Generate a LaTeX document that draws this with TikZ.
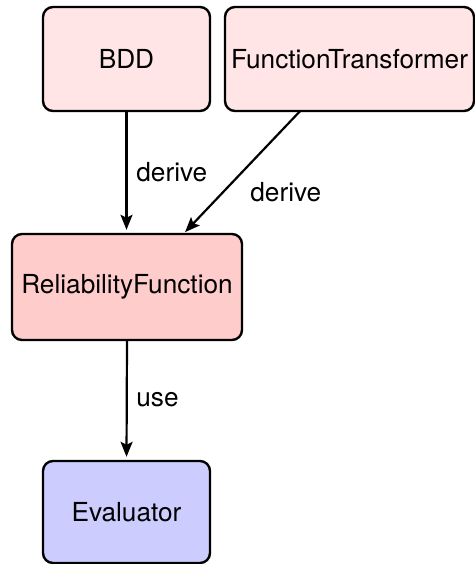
\documentclass[tikz,border=0pt]{standalone}
\usepackage{fontspec}
\setmainfont{TeX Gyre Heros}
\usetikzlibrary{arrows.meta,calc}
\definecolor{paleRed}{HTML}{FFE5E5}
\definecolor{softRed}{HTML}{FFCCCC}
\definecolor{softBlue}{HTML}{CCCCFF}
\begin{document}
\begin{tikzpicture}[x=0.5pt,y=-0.5pt,
  font=\fontsize{13.1}{15.5}\selectfont,
  box/.style={draw=black,line width=1.2pt,rounded corners=5pt,
    minimum height=52pt,inner sep=2pt},
  link/.style={line width=1.1pt,shorten >=1.5pt,
    -{Stealth[length=7.5pt,width=6pt,inset=1.5pt]}},
  lbl/.style={anchor=west,inner sep=0pt}]
\useasboundingbox (0,0) rectangle (475,564);
% boxes
\node[box,fill=paleRed,minimum width=83.5pt] (bdd) at (126.5,59) {BDD};
\node[box,fill=paleRed,minimum width=124.5pt] (ft) at (349.5,59) {FunctionTransformer};
\node[box,fill=softRed,minimum width=115pt,minimum height=53pt] (rf) at (127,287) {ReliabilityFunction};
\node[box,fill=softBlue,minimum width=83.5pt,minimum height=51pt] (ev) at (126.5,512) {Evaluator};
% connectors
\coordinate (ftOut) at ($(ft.south)+(-49.5,-1)$);
\coordinate (rfIn) at ($(rf.north)+(56,1.5)$);
\draw[link] (bdd.south) -- (bdd.south |- rf.north);
\draw[link] (ftOut) -- (rfIn);
\draw[link] (rf.south) -- (ev.north);
% labels
\node[lbl] (l1) at (136,172) {derive};
\node[lbl] (l2) at (250,192) {derive};
\node[lbl] (l3) at (136,400) {use};
\end{tikzpicture}
\end{document}
